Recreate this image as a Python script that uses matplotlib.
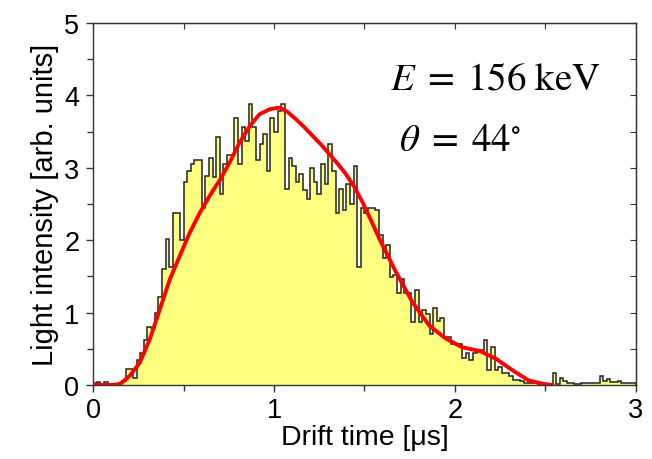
import numpy as np
import matplotlib
matplotlib.use("Agg")
import matplotlib.pyplot as plt
from matplotlib.ticker import MultipleLocator

# histogram: bin width 0.02 us, 0 .. 3 us
bin_width = 0.02
counts = [
    0.02, 0.04, 0.01, 0.04, 0.00, 0.01, 0.00, 0.02, 0.05, 0.22,   # 0.0 - 0.2
    0.22, 0.10, 0.35, 0.44, 0.62, 0.80, 0.78, 1.00, 1.21, 1.60,   # 0.2 - 0.4
    2.02, 1.63, 2.37, 2.37, 2.00, 2.80, 2.96, 3.05, 3.11, 3.11,   # 0.4 - 0.6
    2.45, 2.89, 3.14, 2.87, 3.42, 2.64, 3.05, 3.17, 3.17, 3.69,   # 0.6 - 0.8
    3.05, 3.56, 3.37, 3.88, 3.56, 3.10, 3.33, 3.47, 2.96, 3.69,   # 0.8 - 1.0
    3.49, 3.79, 3.88, 2.71, 3.14, 3.03, 2.80, 2.92, 2.69, 2.57,   # 1.0 - 1.2
    3.00, 2.80, 2.64, 3.05, 2.78, 3.33, 2.96, 2.38, 2.71, 2.41,   # 1.2 - 1.4
    2.78, 2.50, 3.03, 1.63, 2.45, 2.37, 2.45, 2.45, 2.42, 2.07,   # 1.4 - 1.6
    1.76, 1.93, 1.49, 1.52, 1.27, 1.47, 1.27, 1.27, 0.87, 1.31,   # 1.6 - 1.8
    0.87, 1.03, 0.98, 0.71, 1.06, 0.89, 0.92, 0.66, 0.66, 0.57,   # 1.8 - 2.0
    0.57, 0.57, 0.37, 0.44, 0.34, 0.44, 0.48, 0.48, 0.62, 0.20,   # 2.0 - 2.2
    0.52, 0.20, 0.25, 0.16, 0.16, 0.13, 0.07, 0.07, 0.05, 0.03,   # 2.2 - 2.4
    0.03, 0.02, 0.03, 0.01, 0.00, 0.00, 0.01, 0.17, 0.01, 0.09,   # 2.4 - 2.6
    0.06, 0.03, 0.03, 0.01, 0.01, 0.03, 0.03, 0.02, 0.02, 0.02,   # 2.6 - 2.8
    0.12, 0.05, 0.08, 0.04, 0.04, 0.05, 0.03, 0.03, 0.03, 0.02,   # 2.8 - 3.0
]

# fitted curve
fit_t = [0.0, 0.10, 0.148, 0.203, 0.258, 0.314, 0.369, 0.424, 0.48, 0.535,
         0.59, 0.646, 0.70, 0.756, 0.81, 0.867, 0.92, 0.978, 1.03, 1.075, 1.121,
         1.167, 1.213, 1.26, 1.305, 1.35, 1.398, 1.445, 1.49, 1.535, 1.582,
         1.674, 1.766, 1.858, 1.95, 2.04,
         2.136, 2.228, 2.32, 2.41, 2.50, 2.54]
fit_y = [0.0, 0.0, 0.01, 0.13, 0.31, 0.64, 1.05, 1.46, 1.79, 2.11,
         2.38, 2.62, 2.83, 3.08, 3.35, 3.58, 3.74, 3.81, 3.83, 3.77, 3.67,
         3.56, 3.44, 3.32, 3.19, 3.06, 2.91, 2.73, 2.52, 2.28, 2.02,
         1.56, 1.14, 0.82, 0.64, 0.52,
         0.47, 0.36, 0.20, 0.06, 0.01, 0.0]

edges = np.arange(len(counts) + 1) * bin_width

fig = plt.figure(figsize=(6.52, 4.60), dpi=100)
ax = fig.add_axes([0.143, 0.161, 0.832, 0.787])

ax.stairs(counts, edges, fill=True, color="#ffff80", zorder=1)
ax.stairs(counts, edges, color="#222222", lw=1.1, zorder=2)
ax.plot(fit_t, fit_y, color="#ff0000", lw=2.8, solid_joinstyle="round",
        solid_capstyle="round", zorder=3)

ax.set_xlim(0, 3)
ax.set_ylim(0, 5)
ax.xaxis.set_major_locator(MultipleLocator(1))
ax.xaxis.set_minor_locator(MultipleLocator(0.5))
ax.yaxis.set_major_locator(MultipleLocator(1))
ax.yaxis.set_minor_locator(MultipleLocator(0.5))
ax.tick_params(which="both", direction="out", top=False, right=False,
               labelsize=19.5, width=1.0, color="#333333")
ax.tick_params(which="major", length=5)
ax.tick_params(which="minor", length=4)
ax.tick_params(axis="y", which="major", pad=5)
for lab in ax.get_xticklabels() + ax.get_yticklabels():
    lab.set_family("Liberation Sans")

# inward ticks on top and right
sec_x = ax.secondary_xaxis("top")
sec_x.xaxis.set_major_locator(MultipleLocator(0.5))
sec_x.tick_params(direction="in", length=4, labeltop=False, color="#333333")
sec_y = ax.secondary_yaxis("right")
sec_y.yaxis.set_major_locator(MultipleLocator(0.5))
sec_y.tick_params(direction="in", length=4, labelright=False, color="#333333")

for s in ax.spines.values():
    s.set_color("#333333")
    s.set_linewidth(1.0)

ax.set_xlabel("Drift time [\u03bcs]", fontsize=20.5, family="Liberation Sans", labelpad=1)
ax.set_ylabel("Light intensity [arb. units]", fontsize=21, family="Liberation Sans", labelpad=4)

plt.rcParams["mathtext.fontset"] = "stix"
ax.text(1.64, 4.25, r"$E\;=\;156\ \mathrm{keV}$", fontsize=28, ha="left", va="center")
ax.text(1.69, 3.40, r"$\theta\;=\;44^{\circ}$", fontsize=28, ha="left", va="center")

fig.savefig("out.png", dpi=100)
